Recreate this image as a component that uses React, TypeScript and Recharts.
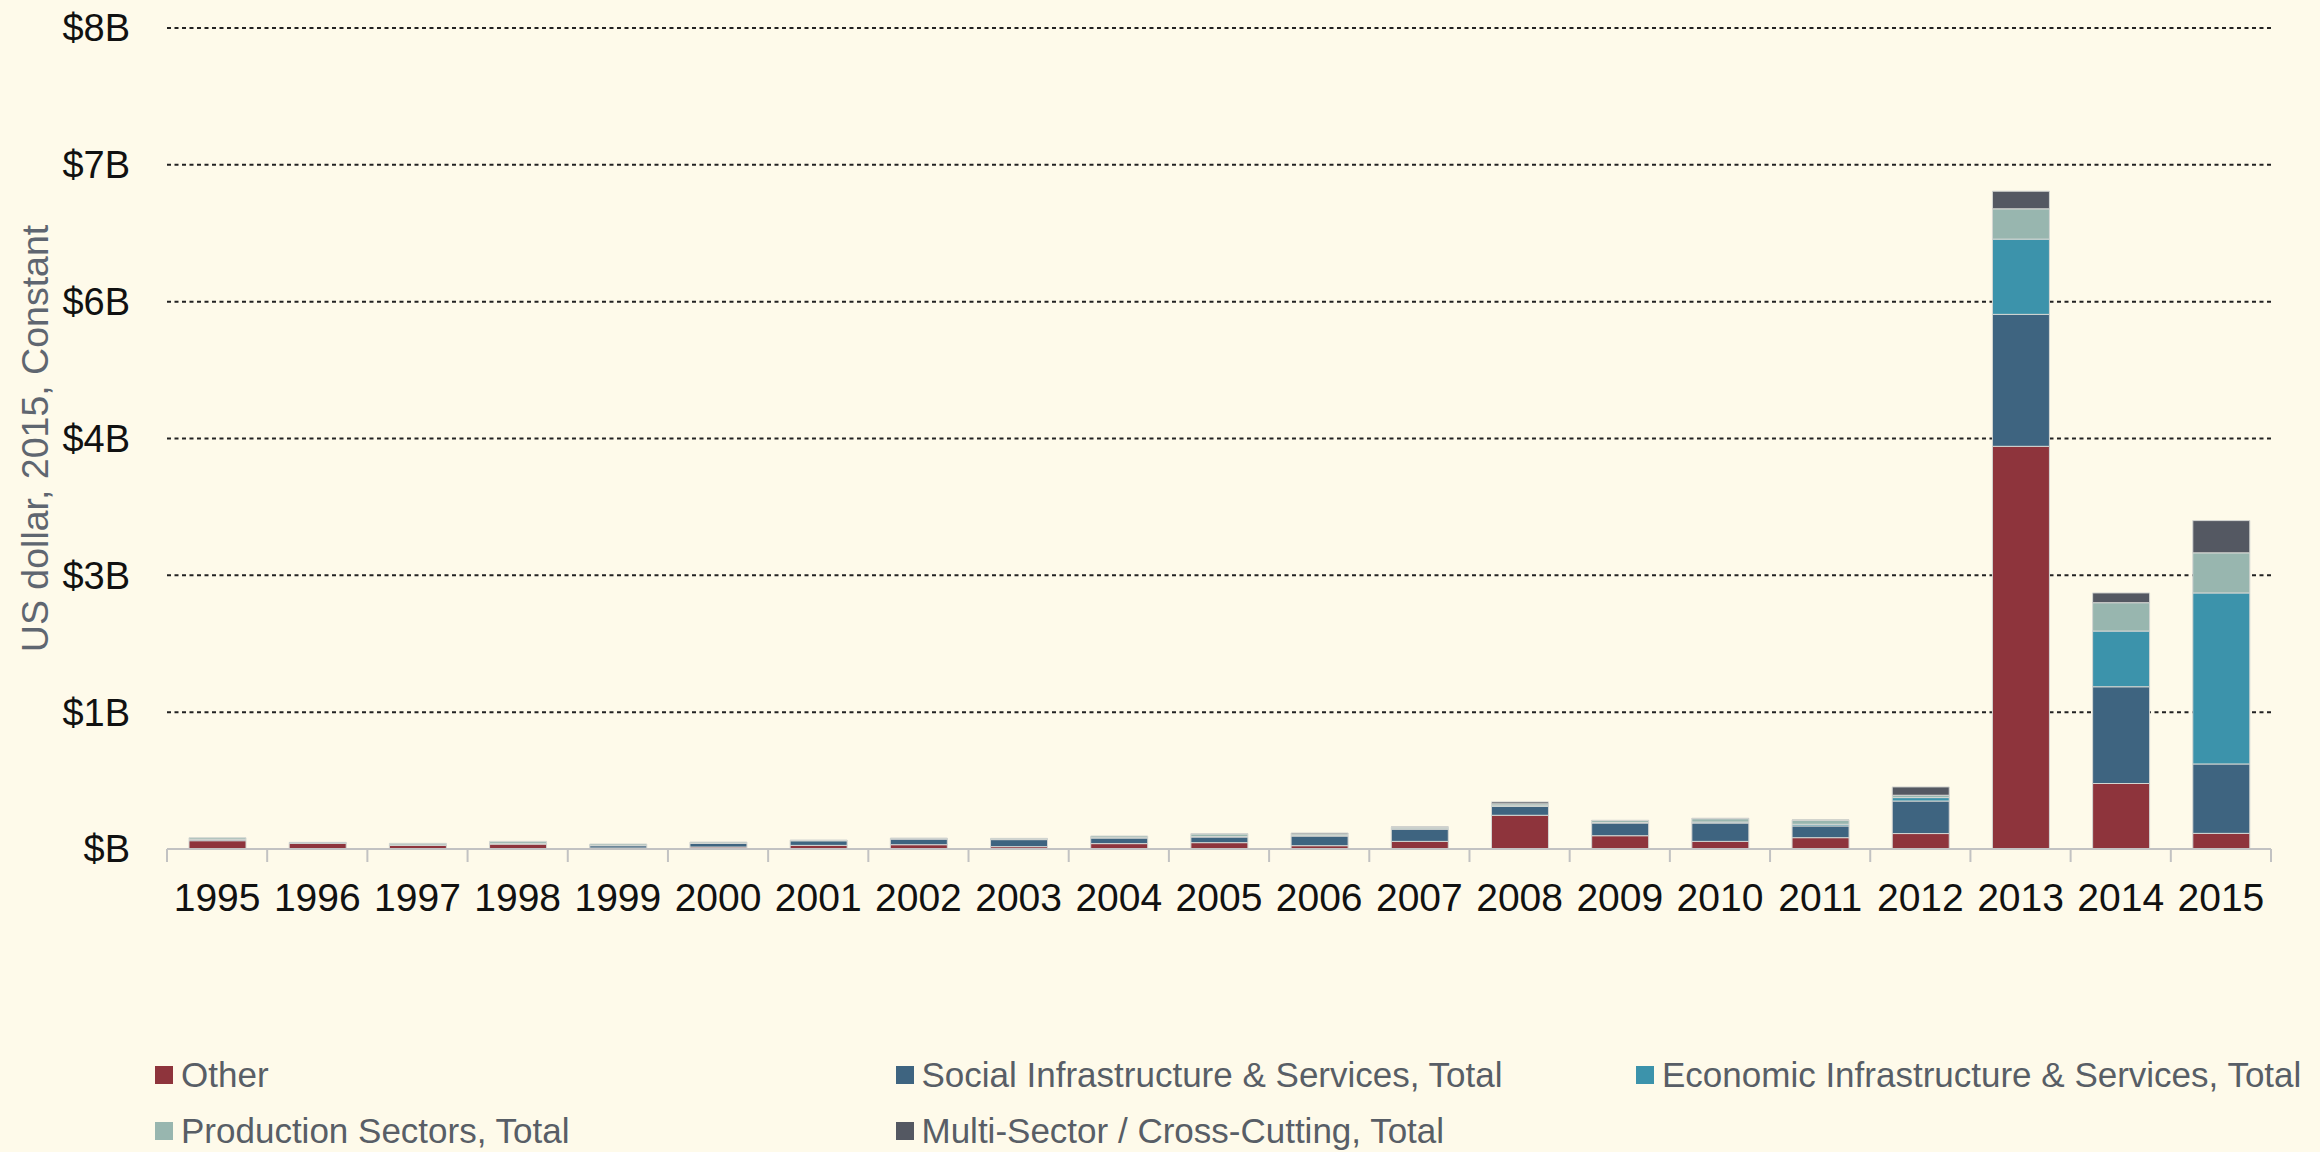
import { BarChart, Bar, XAxis, YAxis, CartesianGrid, Label } from "recharts";

const years = [
  "1995", "1996", "1997", "1998", "1999", "2000", "2001", "2002", "2003", "2004", "2005",
  "2006", "2007", "2008", "2009", "2010", "2011", "2012", "2013", "2014", "2015",
];

// US$ billions, 2015 constant
const other = [0.085, 0.058, 0.037, 0.05, 0.01, 0.02, 0.037, 0.044, 0.024, 0.055, 0.065, 0.034, 0.078, 0.345, 0.136, 0.078, 0.116, 0.158, 4.12, 0.67, 0.16];
const social = [0.012, 0.01, 0.005, 0.008, 0.024, 0.038, 0.047, 0.058, 0.072, 0.058, 0.058, 0.099, 0.126, 0.092, 0.13, 0.188, 0.12, 0.333, 1.35, 0.99, 0.71];
const economic = [0.003, 0, 0, 0, 0.003, 0.003, 0.003, 0.003, 0.003, 0.003, 0.004, 0.004, 0.003, 0.005, 0.005, 0.01, 0.017, 0.035, 0.77, 0.57, 1.75];
const production = [0.015, 0, 0.016, 0.02, 0.014, 0.01, 0.005, 0.007, 0.01, 0.017, 0.027, 0.017, 0.017, 0.02, 0.02, 0.034, 0.04, 0.024, 0.31, 0.29, 0.41];
const multi = [0, 0, 0, 0, 0, 0, 0, 0, 0, 0, 0.003, 0.01, 0.003, 0.02, 0.003, 0.005, 0.005, 0.085, 0.18, 0.1, 0.33];

const yTicks = [0, 1.4, 2.8, 4.2, 5.6, 7.0, 8.4];

const series = [
  { key: "other", name: "Other", color: "#8E343C" },
  { key: "social", name: "Social Infrastructure & Services, Total", color: "#3E6480" },
  { key: "economic", name: "Economic Infrastructure & Services, Total", color: "#3C93AB" },
  { key: "production", name: "Production Sectors, Total", color: "#98B6AF" },
  { key: "multi", name: "Multi-Sector / Cross-Cutting, Total", color: "#545862" },
];

const data = years.map((year, i) => ({
  year,
  other: other[i],
  social: social[i],
  economic: economic[i],
  production: production[i],
  multi: multi[i],
}));

const FONT = "'Liberation Sans', Arial, sans-serif";
const BG = "#FEFAEA";
const AXIS_GRAY = "#c2c2c2";

const formatY = (v: number) => (v === 0 ? "$B" : `$${Math.round(v)}B`);

// year label in the band centre, tick marks on the band edges
function YearTick(props: any) {
  const { x, y, payload, index } = props;
  const axisW = typeof props.width === "number" && props.width > 0 ? props.width : 2104;
  const half = axisW / years.length / 2;
  return (
    <g>
      <line x1={x - half} x2={x - half} y1={y} y2={y + 13} stroke={AXIS_GRAY} strokeWidth={2} />
      {index === years.length - 1 && (
        <line x1={x + half} x2={x + half} y1={y} y2={y + 13} stroke={AXIS_GRAY} strokeWidth={2} />
      )}
      <text x={x} y={y + 34} dy="0.71em" textAnchor="middle" fontSize={39} fill="#111" fontFamily={FONT}>
        {payload.value}
      </text>
    </g>
  );
}

function YTitle(props: any) {
  const vb = props.viewBox || {};
  const x = (vb.x ?? 0) + 35;
  const y = (vb.y ?? 0) + (vb.height ?? 0) / 2;
  return (
    <text
      x={x}
      y={y}
      transform={`rotate(-90 ${x} ${y})`}
      textAnchor="middle"
      dominantBaseline="central"
      fontSize={37.5}
      fill="#5F6670"
      fontFamily={FONT}
    >
      US dollar, 2015, Constant
    </text>
  );
}

export default function App() {
  return (
    <div
      style={{
        position: "absolute",
        left: 0,
        top: 0,
        width: 2320,
        height: 1152,
        background: BG,
        fontFamily: FONT,
        overflow: "hidden",
      }}
    >
      <BarChart
        width={2320}
        height={1152}
        data={data}
        margin={{ top: 28, right: 49, bottom: 243, left: 0 }}
        barSize={57}
      >
        <CartesianGrid
          vertical={false}
          stroke="#222"
          strokeWidth={2}
          strokeDasharray="4 3.5"
        />
        <XAxis
          dataKey="year"
          height={60}
          interval={0}
          axisLine={{ stroke: AXIS_GRAY, strokeWidth: 2 }}
          tickLine={false}
          tickSize={0}
          tickMargin={0}
          tick={<YearTick />}
        />
        <YAxis
          width={167}
          domain={[0, 8.4]}
          ticks={yTicks}
          interval={0}
          axisLine={false}
          tickLine={false}
          tickSize={0}
          tickMargin={37}
          tickFormatter={formatY}
          tick={{ fontSize: 38, fill: "#111", fontFamily: FONT }}
        >
          <Label content={YTitle} />
        </YAxis>
        {series.map((s) => (
          <Bar
            key={s.key}
            dataKey={s.key}
            name={s.name}
            stackId="a"
            fill={s.color}
            stroke="#d4d6d2"
            strokeWidth={1}
            isAnimationActive={false}
          />
        ))}
      </BarChart>
      {series.map((s, i) => {
        const row = i < 3 ? 0 : 1;
        const col = i < 3 ? i : i - 3;
        return (
          <div
            key={s.key}
            style={{
              position: "absolute",
              left: 155 + col * 740.5,
              top: 1055 + row * 56,
              height: 40,
              display: "flex",
              alignItems: "center",
              whiteSpace: "nowrap",
            }}
          >
            <div style={{ width: 18, height: 18, background: s.color, marginRight: 8 }} />
            <span style={{ fontSize: 35, lineHeight: "40px", color: "#585E66" }}>{s.name}</span>
          </div>
        );
      })}
    </div>
  );
}
